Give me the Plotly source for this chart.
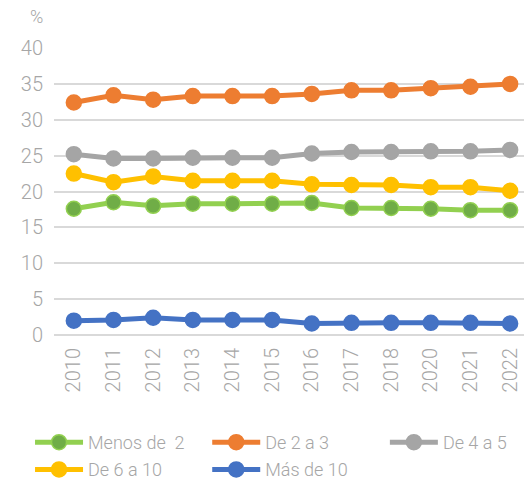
import plotly.graph_objects as go

years = ["2010", "2011", "2012", "2013", "2014", "2015", "2016",
         "2017", "2018", "2020", "2021", "2022"]

menos_de_2 = [17.6, 18.5, 18.0, 18.3, 18.3, 18.3, 18.4, 17.7, 17.7, 17.6, 17.4, 17.4]
de_2_a_3 = [32.4, 33.4, 32.8, 33.3, 33.3, 33.3, 33.6, 34.1, 34.1, 34.4, 34.6, 35.0]
de_4_a_5 = [25.2, 24.6, 24.6, 24.7, 24.7, 24.7, 25.3, 25.5, 25.5, 25.6, 25.6, 25.8]
de_6_a_10 = [22.5, 21.3, 22.1, 21.5, 21.5, 21.5, 21.0, 20.9, 20.9, 20.6, 20.6, 20.1]
mas_de_10 = [2.0, 2.1, 2.4, 2.1, 2.1, 2.1, 1.6, 1.7, 1.7, 1.7, 1.7, 1.6]

# name, values, line colour, marker fill, legend slot (x, y in paper units)
series = [
    ("Menos de  2", menos_de_2, "#92d050", "#70ad47", (-0.051, -0.31)),
    ("De 2 a 3", de_2_a_3, "#ed7d31", "#ed7d31", (0.326, -0.31)),
    ("De 4 a 5", de_4_a_5, "#a5a5a5", "#a5a5a5", (0.704, -0.31)),
    ("De 6 a 10", de_6_a_10, "#ffc000", "#ffc000", (-0.051, -0.405)),
    ("Más de 10", mas_de_10, "#4472c4", "#4472c4", (0.326, -0.405)),
]

FONT = "Roboto"
GREY = "#a6a6a6"

fig = go.Figure()
legends = {}
for i, (name, vals, line_col, mark_col, (lx, ly)) in enumerate(series):
    key = "legend" if i == 0 else f"legend{i + 1}"
    fig.add_trace(go.Scatter(
        x=years, y=vals, name=name, mode="lines+markers",
        line=dict(color=line_col, width=5),
        marker=dict(color=mark_col, size=15,
                    line=dict(color=line_col, width=1.5)),
        cliponaxis=False,
        showlegend=True,
        legend=key,
    ))
    legends[key] = dict(
        x=lx, y=ly, xanchor="left", yanchor="top", orientation="h",
        font=dict(family=FONT, size=18, color=GREY, weight=300),
        itemwidth=48, bgcolor="rgba(0,0,0,0)",
    )

fig.update_layout(
    width=524, height=484,
    margin=dict(l=54, r=0, t=48, b=149, autoexpand=False),
    paper_bgcolor="white", plot_bgcolor="white",
    showlegend=True,
    font=dict(family=FONT, color=GREY, weight=300),
    xaxis=dict(
        type="category", range=[-0.5, 11.35],
        showgrid=False, zeroline=False, showline=False,
        tickangle=-90, tickfont=dict(size=20, color=GREY, family=FONT, weight=300),
        ticks="", ticklabelstandoff=8,
    ),
    yaxis=dict(
        range=[0, 40], dtick=5, showgrid=True, gridcolor="#d9d9d9", gridwidth=1.5,
        zeroline=True, zerolinecolor="#d9d9d9", zerolinewidth=1.5,
        showline=False, ticks="", ticklabelstandoff=10,
        tickfont=dict(size=20, color=GREY, family=FONT, weight=300),
    ),
    annotations=[dict(
        text="%", xref="paper", yref="paper", x=-0.02, y=1.065,
        xanchor="right", yanchor="bottom", showarrow=False,
        font=dict(family=FONT, size=18, color=GREY, weight=300),
    )],
    **legends,
)

fig.write_html("out.html")
